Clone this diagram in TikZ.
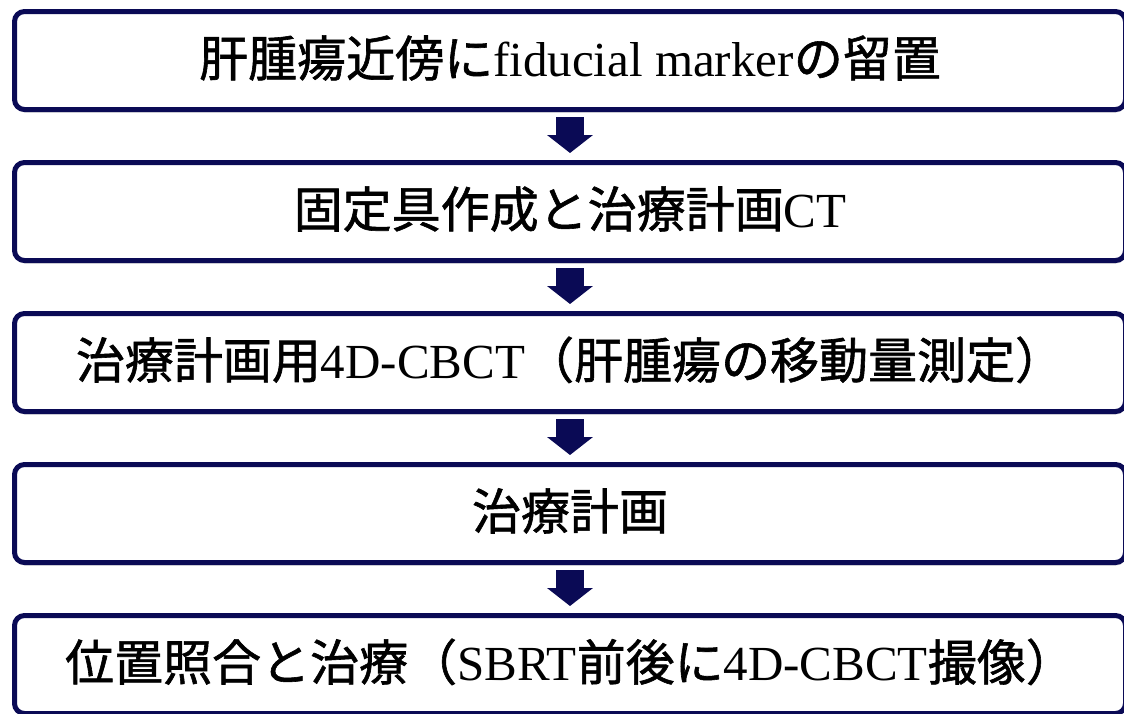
\documentclass[tikz,border=0pt]{standalone}
\usepackage{fontspec}
\setmainfont{Liberation Serif}
\newfontfamily\jp{Noto Sans CJK JP}[FakeBold=1.2]
\usetikzlibrary{arrows.meta,shadows}
\definecolor{navy}{RGB}{10,10,85}
\tikzset{
  stepbox/.style={draw=navy, line width=5pt, rounded corners=10pt, fill=white,
    minimum width=1111pt, minimum height=98pt, inner sep=0pt, outer sep=0pt,
    text height=36pt, text depth=4pt,
    font=\fontsize{49}{56}\selectfont, text=black,
    drop shadow={shadow xshift=0.5pt, shadow yshift=-3pt, opacity=0.25, fill=black!60}},
  bigarrow/.style={draw=navy, line width=28pt,
    -{Triangle[width=45pt,length=18pt]}, shorten <=7.5pt, shorten >=9.5pt}
}
\begin{document}
\begin{tikzpicture}[x=1pt,y=-1pt]
\useasboundingbox (0,0) rectangle (1124,713);
\node[stepbox] (b1) at (570,60.5) {{\jp 肝腫瘍近傍に}fiducial marker{\jp の留置}};
\node[stepbox] (b2) at (570,211.5) {{\jp 固定具作成と治療計画}CT};
\node[stepbox] (b3) at (570,362.5) {{\jp 治療計画用}4D-CBCT{\jp （肝腫瘍の移動量測定）}};
\node[stepbox] (b4) at (570,513.5) {{\jp 治療計画}};
\node[stepbox] (b5) at (570,664.5) {{\jp 位置照合と治療（}SBRT{\jp 前後に}4D-CBCT{\jp 撮像）}};
\draw[bigarrow] (b1) -- (b2);
\draw[bigarrow] (b2) -- (b3);
\draw[bigarrow] (b3) -- (b4);
\draw[bigarrow] (b4) -- (b5);
\end{tikzpicture}
\end{document}
